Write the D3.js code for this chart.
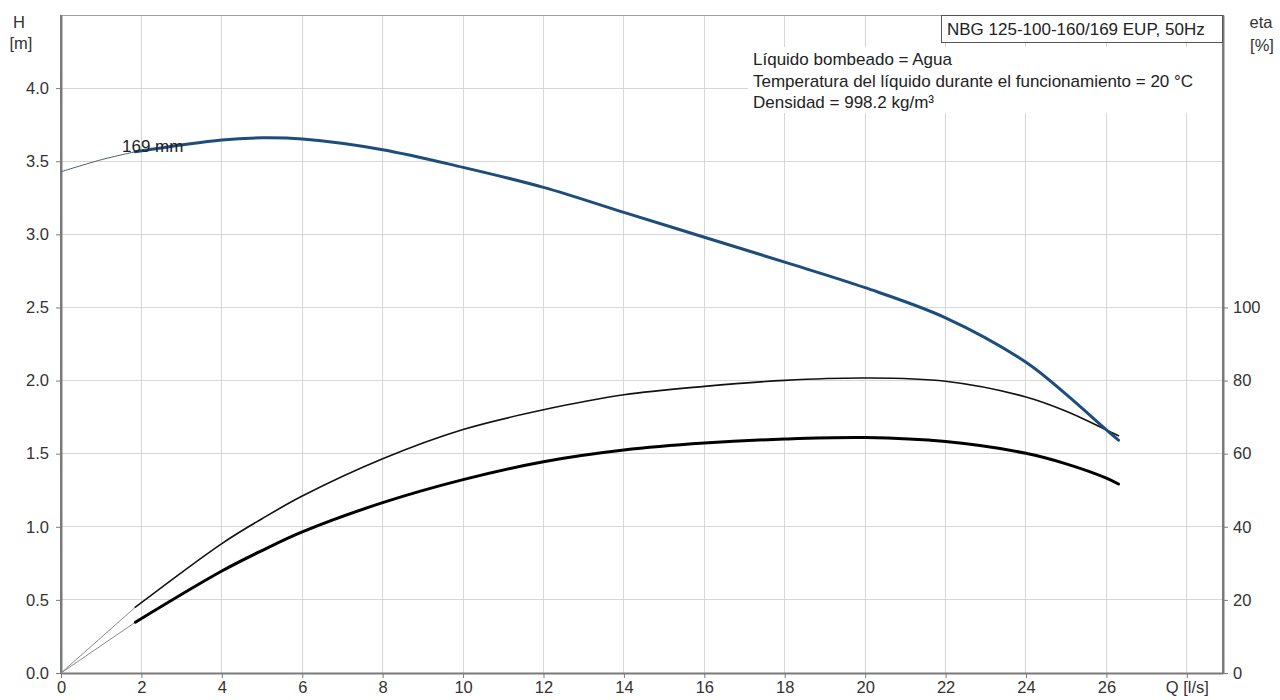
<!DOCTYPE html>
<html>
<head>
<meta charset="utf-8">
<script src="https://cdn.jsdelivr.net/npm/d3@7/dist/d3.min.js"></script>
<style>
  html, body { margin: 0; padding: 0; background: #fff; }
  svg { display: block; font-family: "Liberation Sans", Arial, sans-serif; }
</style>
</head>
<body>
<svg id="chart" width="1280" height="700"></svg>
<script>
// Flow rate points (l/s) of the operating range
const flowQ = [1.85, 4, 5, 6, 8, 10, 12, 14, 16, 18, 20, 22, 24, 25, 26, 26.3];
// Head H [m], 169 mm impeller
const headH = [3.565, 3.645, 3.66, 3.652, 3.579, 3.458, 3.321, 3.15, 2.98, 2.81, 2.635, 2.429, 2.125, 1.905, 1.662, 1.592];
// Pump efficiency [%]
const etaPump = [18.0, 35.4, 42.2, 48.4, 58.6, 66.6, 72.0, 76.1, 78.4, 80.05, 80.7, 79.8, 75.5, 71.6, 66.5, 64.9];
// Overall efficiency [%]
const etaTotal = [13.9, 27.9, 33.5, 38.6, 46.6, 52.9, 57.8, 61.0, 62.9, 64.0, 64.4, 63.3, 60.1, 57.2, 53.3, 51.7];

// Extensions below the operating range
const extFlowQ = [0, 1, 1.85];
const extHeadH = [3.428, 3.51, 3.565];
const extEtaQ = [0, 1.85];
const extEtaPump = [0, 18.0];
const extEtaTotal = [0, 13.9];

// Axis ticks
const xTicks = [0, 2, 4, 6, 8, 10, 12, 14, 16, 18, 20, 22, 24, 26, 28];
const hTicks = [0, 0.5, 1.0, 1.5, 2.0, 2.5, 3.0, 3.5, 4.0];
const etaTicks = [0, 20, 40, 60, 80, 100];

const title = "NBG 125-100-160/169 EUP, 50Hz";
const infoLines = [
  "Líquido bombeado = Agua",
  "Temperatura del líquido durante el funcionamiento = 20 °C",
  "Densidad = 998.2 kg/m³"
];
const curveLabel = "169 mm";

const svg = d3.select("#chart");
const L = 61, R = 1223, T = 15, B = 673;

const x = d3.scaleLinear().domain([0, 28.9]).range([L, R]);
const y = d3.scaleLinear().domain([0, 4.5]).range([B, T]);
const yEta = d3.scaleLinear().domain([0, 180]).range([B, T]);

const textColor = "#333";
const fontSize = 16.5;
const infoSize = 17;

// Grid
const grid = svg.append("g");
grid.selectAll("line.v").data(xTicks.filter(d => d > 0)).enter().append("line")
  .attr("x1", d => x(d)).attr("x2", d => x(d))
  .attr("y1", T).attr("y2", B)
  .attr("stroke", "#d6d6d6").attr("stroke-width", 1).attr("shape-rendering", "crispEdges");
grid.selectAll("line.h").data(hTicks.filter(d => d > 0)).enter().append("line")
  .attr("x1", L).attr("x2", R)
  .attr("y1", d => y(d)).attr("y2", d => y(d))
  .attr("stroke", "#d6d6d6").attr("stroke-width", 1).attr("shape-rendering", "crispEdges");

// Top frame
svg.append("line").attr("x1", L).attr("x2", R).attr("y1", T).attr("y2", T)
  .attr("stroke", "#a0a0a0").attr("stroke-width", 1).attr("shape-rendering", "crispEdges");

// Info panel background
svg.append("rect").attr("x", 748).attr("y", 47).attr("width", R - 749).attr("height", 66)
  .attr("fill", "#fff");

// Axes
function styleAxis(g) {
  g.select(".domain").attr("stroke", "#7a7a7a").attr("stroke-width", 2);
  g.selectAll(".tick line").attr("stroke", "#7a7a7a").attr("stroke-width", 1);
  g.selectAll(".tick text").attr("fill", textColor).attr("font-size", fontSize)
    .attr("font-family", "'Liberation Sans', Arial, sans-serif");
}

const xAxis = d3.axisBottom(x).tickValues(xTicks).tickSize(5).tickSizeOuter(0)
  .tickFormat(d => d === 28 ? "Q [l/s]" : d3.format("d")(d));
svg.append("g").attr("transform", `translate(0,${B})`).call(xAxis).call(styleAxis)
  .selectAll(".tick text").attr("y", 7).attr("dy", "0.8em");

const yAxis = d3.axisLeft(y).tickValues(hTicks).tickSize(5).tickSizeOuter(0)
  .tickFormat(d3.format(".1f"));
svg.append("g").attr("transform", `translate(${L},0)`).call(yAxis).call(styleAxis)
  .selectAll(".tick text").attr("x", -12);

const etaAxis = d3.axisRight(yEta).tickValues(etaTicks).tickSize(5).tickSizeOuter(0)
  .tickFormat(d3.format("d"));
svg.append("g").attr("transform", `translate(${R},0)`).call(etaAxis).call(styleAxis)
  .selectAll(".tick text").attr("x", 10);

// Extend axis lines to full frame
svg.append("line").attr("x1", L).attr("x2", L).attr("y1", T).attr("y2", B)
  .attr("stroke", "#7a7a7a").attr("stroke-width", 2);
svg.append("line").attr("x1", R).attr("x2", R).attr("y1", T).attr("y2", B)
  .attr("stroke", "#7a7a7a").attr("stroke-width", 2);

// Axis titles
svg.append("text").attr("x", 19).attr("y", 28).attr("text-anchor", "middle")
  .attr("font-size", fontSize).attr("fill", textColor).text("H");
svg.append("text").attr("x", 21).attr("y", 49).attr("text-anchor", "middle")
  .attr("font-size", fontSize).attr("fill", textColor).text("[m]");
svg.append("text").attr("x", 1261).attr("y", 28).attr("text-anchor", "middle")
  .attr("font-size", fontSize).attr("fill", textColor).text("eta");
svg.append("text").attr("x", 1262).attr("y", 51).attr("text-anchor", "middle")
  .attr("font-size", fontSize).attr("fill", textColor).text("[%]");

// Curves
const toPts = (qs, vs) => qs.map((q, i) => ({ q: q, v: vs[i] }));
const smooth = d3.curveCatmullRom.alpha(0.5);
const lineH = d3.line().x(d => x(d.q)).y(d => y(d.v)).curve(smooth);
const lineEta = d3.line().x(d => x(d.q)).y(d => yEta(d.v)).curve(smooth);

const curves = svg.append("g").attr("fill", "none");
curves.append("path").attr("d", lineEta(toPts(extEtaQ, extEtaPump)))
  .attr("stroke", "#8a8a8a").attr("stroke-width", 1);
curves.append("path").attr("d", lineEta(toPts(extEtaQ, extEtaTotal)))
  .attr("stroke", "#8a8a8a").attr("stroke-width", 1);
curves.append("path").attr("d", lineH(toPts(extFlowQ, extHeadH)))
  .attr("stroke", "#4a5a6a").attr("stroke-width", 1);

curves.append("path").attr("d", lineEta(toPts(flowQ, etaPump)))
  .attr("stroke", "#111").attr("stroke-width", 1.6).attr("stroke-linecap", "round");
curves.append("path").attr("d", lineEta(toPts(flowQ, etaTotal)))
  .attr("stroke", "#000").attr("stroke-width", 3).attr("stroke-linecap", "round");
curves.append("path").attr("d", lineH(toPts(flowQ, headH)))
  .attr("stroke", "#1d4d7d").attr("stroke-width", 3).attr("stroke-linecap", "round");

// Curve label
svg.append("text").attr("x", 122).attr("y", 152).attr("font-size", infoSize)
  .attr("fill", "#222").text(curveLabel);

// Title box
svg.append("rect").attr("x", 941.5).attr("y", 15.5).attr("width", R - 942).attr("height", 27)
  .attr("fill", "#fff").attr("stroke", "#555").attr("stroke-width", 1);
svg.append("text").attr("x", 947).attr("y", 35).attr("font-size", infoSize)
  .attr("fill", "#222").text(title);

// Info text
svg.append("g").selectAll("text").data(infoLines).enter().append("text")
  .attr("x", 753).attr("y", (d, i) => 65 + i * 21.5)
  .attr("font-size", infoSize).attr("fill", "#222").text(d => d);
</script>
</body>
</html>
